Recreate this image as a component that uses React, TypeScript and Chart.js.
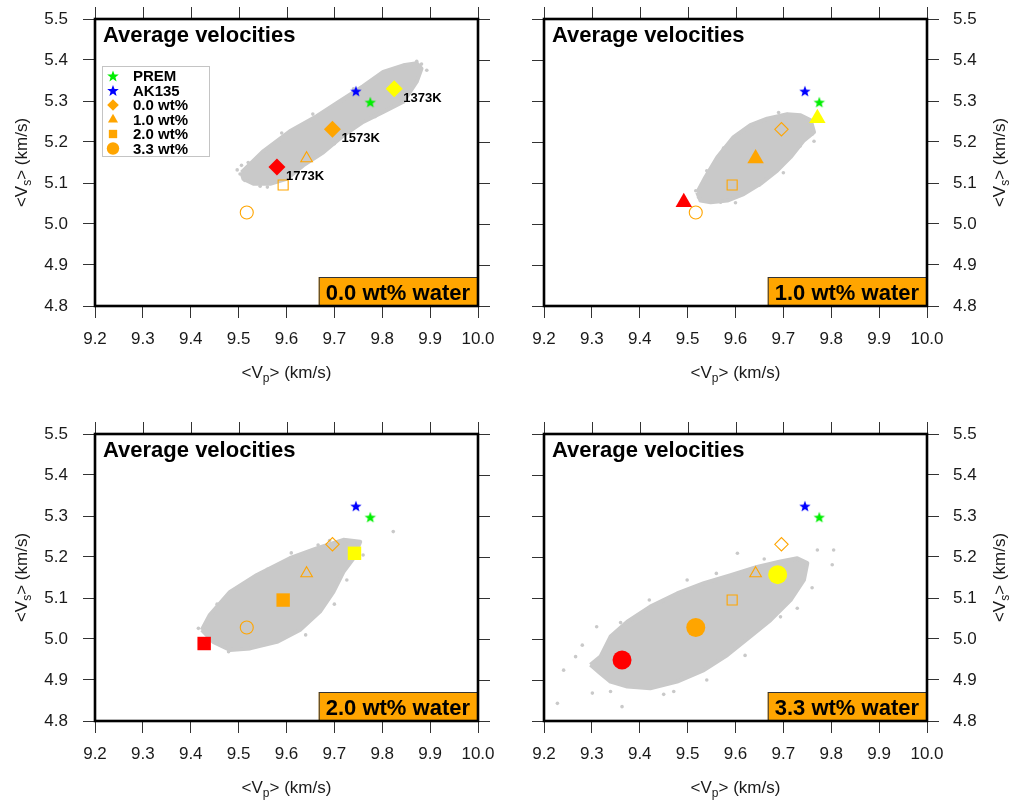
import React, { useEffect, useRef } from 'react';
import { Chart, registerables } from 'chart.js';

Chart.register(...registerables);

// ---------------- data ----------------
const X_TICKS = [9.2, 9.3, 9.4, 9.5, 9.6, 9.7, 9.8, 9.9, 10.0];
const Y_TICKS = [4.8, 4.9, 5.0, 5.1, 5.2, 5.3, 5.4, 5.5];

const TEMPS = ['1373K', '1573K', '1773K'];
const WATER_LABELS = ['0.0 wt%', '1.0 wt%', '2.0 wt%', '3.3 wt%'];
const PANEL_TITLES = ['0.0 wt% water', '1.0 wt% water', '2.0 wt% water', '3.3 wt% water'];
const REF_NAMES = ['PREM', 'AK135'];
const REF_VP = [9.775, 9.745];
const REF_VS = [5.297, 5.324];

// average velocities per water content, temperatures 1373K, 1573K, 1773K
const VP_W00 = [9.825, 9.696, 9.580];
const VS_W00 = [5.330, 5.231, 5.139];
const VP_W10 = [9.771, 9.642, 9.492];
const VS_W10 = [5.258, 5.160, 5.053];
const VP_W20 = [9.742, 9.593, 9.428];
const VS_W20 = [5.209, 5.095, 4.989];
const VP_W33 = [9.688, 9.517, 9.363];
const VS_W33 = [5.157, 5.028, 4.949];

// outline of the dense gray cloud of samples (Vp, Vs)
const CLOUD_W00_VP = [9.506, 9.552, 9.607, 9.663, 9.712, 9.760, 9.802, 9.844, 9.872, 9.882, 9.872, 9.844, 9.802, 9.760, 9.719, 9.677, 9.635, 9.600, 9.566, 9.531, 9.510];
const CLOUD_W00_VS = [5.126, 5.178, 5.226, 5.263, 5.300, 5.336, 5.371, 5.387, 5.392, 5.379, 5.347, 5.298, 5.273, 5.249, 5.216, 5.175, 5.143, 5.110, 5.098, 5.098, 5.110];
const CLOUD_W10_VP = [9.520, 9.537, 9.562, 9.596, 9.631, 9.666, 9.708, 9.736, 9.757, 9.764, 9.743, 9.715, 9.687, 9.652, 9.617, 9.583, 9.548, 9.527];
const CLOUD_W10_VS = [5.077, 5.114, 5.163, 5.212, 5.241, 5.257, 5.268, 5.265, 5.253, 5.224, 5.204, 5.163, 5.130, 5.098, 5.073, 5.057, 5.053, 5.057];
const CLOUD_W20_VP = [9.423, 9.440, 9.482, 9.538, 9.607, 9.663, 9.719, 9.754, 9.740, 9.719, 9.698, 9.670, 9.628, 9.580, 9.524, 9.482, 9.447];
const CLOUD_W20_VS = [5.022, 5.059, 5.115, 5.156, 5.197, 5.221, 5.242, 5.237, 5.197, 5.164, 5.115, 5.067, 5.022, 4.993, 4.977, 4.973, 4.993];
const CLOUD_W33_VP = [9.297, 9.318, 9.339, 9.374, 9.422, 9.478, 9.534, 9.590, 9.645, 9.694, 9.729, 9.750, 9.743, 9.715, 9.673, 9.631, 9.583, 9.534, 9.478, 9.422, 9.374, 9.339, 9.318];
const CLOUD_W33_VS = [4.937, 4.957, 5.006, 5.042, 5.079, 5.111, 5.136, 5.156, 5.176, 5.189, 5.197, 5.185, 5.144, 5.095, 5.046, 5.006, 4.961, 4.924, 4.896, 4.880, 4.884, 4.896, 4.916];

// scattered samples outside the dense cloud
const OUT_W00_VP = [9.506, 9.503, 9.513, 9.497, 9.882, 9.893, 9.872, 9.545, 9.560, 9.620, 9.700, 9.785, 9.590, 9.655, 9.740, 9.520];
const OUT_W00_VS = [5.143, 5.122, 5.106, 5.132, 5.390, 5.375, 5.397, 5.092, 5.090, 5.128, 5.196, 5.262, 5.222, 5.268, 5.330, 5.150];
const OUT_W10_VP = [9.517, 9.523, 9.569, 9.764, 9.760, 9.600, 9.540, 9.575, 9.690, 9.735, 9.650, 9.700];
const OUT_W10_VS = [5.081, 5.065, 5.053, 5.202, 5.219, 5.052, 5.130, 5.185, 5.272, 5.190, 5.095, 5.125];
const OUT_W20_VP = [9.416, 9.823, 9.760, 9.479, 9.726, 9.666, 9.500, 9.455, 9.560, 9.640, 9.700, 9.610, 9.690];
const OUT_W20_VS = [5.026, 5.262, 5.205, 4.969, 5.144, 5.229, 4.975, 5.085, 5.170, 5.010, 5.085, 5.210, 5.240];
const OUT_W33_VP = [9.228, 9.241, 9.266, 9.301, 9.363, 9.604, 9.805, 9.802, 9.771, 9.729, 9.694, 9.499, 9.471, 9.339, 9.310, 9.280, 9.360, 9.420, 9.560, 9.660, 9.760, 9.540, 9.620, 9.450];
const OUT_W33_VS = [4.843, 4.924, 4.957, 4.868, 4.835, 5.209, 5.217, 5.181, 5.217, 5.075, 5.054, 5.144, 4.872, 4.872, 5.030, 4.985, 5.040, 5.095, 5.160, 5.195, 5.125, 4.900, 4.960, 4.865];

const VP_BY_WATER = [VP_W00, VP_W10, VP_W20, VP_W33];
const VS_BY_WATER = [VS_W00, VS_W10, VS_W20, VS_W33];
const CLOUD_VP = [CLOUD_W00_VP, CLOUD_W10_VP, CLOUD_W20_VP, CLOUD_W33_VP];
const CLOUD_VS = [CLOUD_W00_VS, CLOUD_W10_VS, CLOUD_W20_VS, CLOUD_W33_VS];
const OUT_VP = [OUT_W00_VP, OUT_W10_VP, OUT_W20_VP, OUT_W33_VP];
const OUT_VS = [OUT_W00_VS, OUT_W10_VS, OUT_W20_VS, OUT_W33_VS];

// ---------------- styles ----------------
const FONT = '"Liberation Sans", Arial, Helvetica, sans-serif';
const GRAY = 'rgb(201,201,201)';
const ORANGE = '#ffa500';
const TEMP_COLORS = ['#ffff00', '#ffa500', '#ff0000'];
const REF_COLORS = ['#00ee00', '#0000ff'];
const SHAPES = ['rectRot', 'triangle', 'rect', 'circle'];
const FILLED_R = [8.5, 9.5, 9.5, 9.5];
const HOLLOW_R = [6.7, 6.7, 7.1, 6.5];
const LEGEND_R = [5.8, 5.8, 5.9, 6.2];
const TICK_LEN = 12;
const TICK_COLOR = '#333';
const LABEL_COLOR = '#1a1a1a';

const LAYOUT = [
  { left: 0, top: 0, w: 507, h: 400, pad: { left: 0, right: 29, top: 19, bottom: 0 }, side: 'left', sideW: 95, bottomH: 94 },
  { left: 507, top: 0, w: 508, h: 400, pad: { left: 37, right: 0, top: 19, bottom: 0 }, side: 'right', sideW: 88, bottomH: 94 },
  { left: 0, top: 400, w: 507, h: 401, pad: { left: 0, right: 29, top: 34, bottom: 0 }, side: 'left', sideW: 95, bottomH: 80 },
  { left: 507, top: 400, w: 508, h: 401, pad: { left: 37, right: 0, top: 34, bottom: 0 }, side: 'right', sideW: 88, bottomH: 80 },
];

function starPath(ctx: CanvasRenderingContext2D, cx: number, cy: number, R: number) {
  const r = R * 0.42;
  ctx.beginPath();
  for (let i = 0; i < 10; i++) {
    const rad = i % 2 === 0 ? R : r;
    const ang = -Math.PI / 2 + (i * Math.PI) / 5;
    const x = cx + rad * Math.cos(ang);
    const y = cy + rad * Math.sin(ang);
    if (i === 0) ctx.moveTo(x, y);
    else ctx.lineTo(x, y);
  }
  ctx.closePath();
}

function makeStar(color: string, R: number) {
  const s = Math.ceil(R * 2 + 2);
  const c = document.createElement('canvas');
  c.width = s;
  c.height = s;
  const ctx = c.getContext('2d')!;
  ctx.fillStyle = color;
  starPath(ctx, s / 2, s / 2 + R * 0.08, R);
  ctx.fill();
  return c;
}

function shapePath(ctx: CanvasRenderingContext2D, shape: string, x: number, y: number, r: number) {
  ctx.beginPath();
  if (shape === 'circle') {
    ctx.arc(x, y, r, 0, Math.PI * 2);
  } else if (shape === 'rectRot') {
    ctx.moveTo(x - r, y);
    ctx.lineTo(x, y - r);
    ctx.lineTo(x + r, y);
    ctx.lineTo(x, y + r);
    ctx.closePath();
  } else if (shape === 'rect') {
    const h = r * Math.SQRT1_2;
    ctx.rect(x - h, y - h, 2 * h, 2 * h);
  } else if (shape === 'triangle') {
    for (let i = 0; i < 3; i++) {
      const a = (i * 2 * Math.PI) / 3;
      const px = x + Math.sin(a) * r;
      const py = y - Math.cos(a) * r;
      if (i === 0) ctx.moveTo(px, py);
      else ctx.lineTo(px, py);
    }
    ctx.closePath();
  }
}

function subText(ctx: CanvasRenderingContext2D, pre: string, sub: string, post: string, cx: number, cy: number, size: number) {
  const main = `${size}px ${FONT}`;
  const small = `${Math.round(size * 0.68)}px ${FONT}`;
  ctx.font = main;
  const w1 = ctx.measureText(pre).width;
  const w3 = ctx.measureText(post).width;
  ctx.font = small;
  const w2 = ctx.measureText(sub).width;
  const total = w1 + w2 + w3;
  let x = cx - total / 2;
  ctx.textBaseline = 'middle';
  ctx.textAlign = 'left';
  ctx.font = main;
  ctx.fillText(pre, x, cy);
  x += w1;
  ctx.font = small;
  ctx.fillText(sub, x, cy + size * 0.32);
  x += w2;
  ctx.font = main;
  ctx.fillText(post, x, cy);
}

function buildConfig(idx: number, stars: HTMLCanvasElement[]) {
  const L = LAYOUT[idx];
  const w = idx;
  const pts = (vp: number[], vs: number[]) => vp.map((x, i) => ({ x, y: vs[i] }));
  const cloud = pts(CLOUD_VP[w], CLOUD_VS[w]);
  cloud.push({ ...cloud[0] });

  const datasets: any[] = [];
  datasets.push({
    type: 'line',
    data: cloud,
    fill: 'shape',
    backgroundColor: GRAY,
    borderColor: GRAY,
    borderWidth: 4,
    borderJoinStyle: 'round',
    pointRadius: 0,
    tension: 0,
    order: 20,
  });
  datasets.push({
    type: 'scatter',
    data: pts(OUT_VP[w], OUT_VS[w]),
    pointRadius: 1.8,
    backgroundColor: GRAY,
    borderWidth: 0,
    order: 19,
  });
  for (let o = 0; o < 4; o++) {
    if (o === w) continue;
    datasets.push({
      type: 'scatter',
      data: [{ x: VP_BY_WATER[o][1], y: VS_BY_WATER[o][1] }],
      pointStyle: SHAPES[o],
      pointRadius: HOLLOW_R[o],
      backgroundColor: 'rgba(0,0,0,0)',
      borderColor: ORANGE,
      borderWidth: 1.1,
      order: 10,
    });
  }
  REF_NAMES.forEach((n, i) => {
    datasets.push({
      type: 'scatter',
      label: n,
      data: [{ x: REF_VP[i], y: REF_VS[i] }],
      pointStyle: stars[i],
      pointRadius: 6,
      order: 5,
    });
  });
  datasets.push({
    type: 'scatter',
    data: pts(VP_BY_WATER[w], VS_BY_WATER[w]),
    pointStyle: SHAPES[w],
    pointRadius: FILLED_R[w],
    backgroundColor: TEMP_COLORS,
    borderColor: TEMP_COLORS,
    borderWidth: 0,
    order: 1,
  });

  const decor = {
    id: 'decor' + idx,
    afterDraw(chart: any) {
      const { ctx, chartArea: a, scales } = chart;
      const xs = scales.x;
      const ys = scales.y;
      ctx.save();
      // opposite-side ticks
      ctx.strokeStyle = TICK_COLOR;
      ctx.lineWidth = 1;
      ctx.beginPath();
      X_TICKS.forEach((v) => {
        const px = Math.round(xs.getPixelForValue(v)) + 0.5;
        ctx.moveTo(px, a.top);
        ctx.lineTo(px, a.top - TICK_LEN);
      });
      Y_TICKS.forEach((v) => {
        const py = Math.round(ys.getPixelForValue(v)) + 0.5;
        if (L.side === 'left') {
          ctx.moveTo(a.right, py);
          ctx.lineTo(a.right + TICK_LEN, py);
        } else {
          ctx.moveTo(a.left, py);
          ctx.lineTo(a.left - TICK_LEN, py);
        }
      });
      ctx.stroke();

      // title
      ctx.fillStyle = '#000';
      ctx.textAlign = 'left';
      ctx.textBaseline = 'alphabetic';
      ctx.font = `bold 22px ${FONT}`;
      ctx.fillText('Average velocities', a.left + 8, a.top + 23);

      // temperature labels (first panel)
      if (idx === 0) {
        ctx.font = `bold 13px ${FONT}`;
        TEMPS.forEach((t, i) => {
          const px = xs.getPixelForValue(VP_BY_WATER[w][i]);
          const py = ys.getPixelForValue(VS_BY_WATER[w][i]);
          ctx.fillText(t, px + 9, py + 13);
        });

        // legend
        const lx = a.left + 7;
        const ly = a.top + 47;
        ctx.fillStyle = '#fff';
        ctx.fillRect(lx, ly, 107, 90);
        ctx.strokeStyle = '#c4c4c4';
        ctx.lineWidth = 1;
        ctx.strokeRect(lx + 0.5, ly + 0.5, 107, 90);
        ctx.font = `bold 15px ${FONT}`;
        ctx.textBaseline = 'middle';
        const labels = [...REF_NAMES, ...WATER_LABELS];
        labels.forEach((lab, i) => {
          const cy = ly + 10 + i * 14.5;
          const cx = lx + 11;
          if (i < 2) {
            ctx.fillStyle = REF_COLORS[i];
            starPath(ctx, cx, cy + 0.5, 6.1);
            ctx.fill();
          } else {
            ctx.fillStyle = ORANGE;
            shapePath(ctx, SHAPES[i - 2], cx, cy, LEGEND_R[i - 2]);
            ctx.fill();
          }
          ctx.fillStyle = '#000';
          ctx.fillText(lab, lx + 31, cy + 1);
        });
      }

      // water content box
      ctx.font = `bold 22px ${FONT}`;
      ctx.textBaseline = 'alphabetic';
      const tw = ctx.measureText(PANEL_TITLES[w]).width;
      const bw = tw + 15;
      const bh = 29;
      ctx.fillStyle = ORANGE;
      ctx.fillRect(a.right - bw, a.bottom - bh, bw, bh);
      ctx.strokeStyle = '#333';
      ctx.lineWidth = 1;
      ctx.strokeRect(a.right - bw + 0.5, a.bottom - bh + 0.5, bw, bh);
      ctx.fillStyle = '#000';
      ctx.fillText(PANEL_TITLES[w], a.right - bw + 7, a.bottom - 6);

      // frame
      ctx.strokeStyle = '#000';
      ctx.lineWidth = 2.6;
      ctx.strokeRect(a.left, a.top, a.right - a.left, a.bottom - a.top);

      // axis titles
      ctx.fillStyle = LABEL_COLOR;
      subText(ctx, '<V', 'p', '> (km/s)', (a.left + a.right) / 2, a.bottom + 67, 17);
      const yc = (a.top + a.bottom) / 2;
      const xc = L.side === 'left' ? a.left - 73 : a.right + 73;
      ctx.translate(xc, yc);
      ctx.rotate(-Math.PI / 2);
      subText(ctx, '<V', 's', '> (km/s)', 0, 0, 17);
      ctx.restore();
    },
  };

  return {
    type: 'scatter',
    data: { datasets },
    options: {
      animation: false,
      responsive: false,
      devicePixelRatio: 1,
      events: [],
      layout: { padding: L.pad },
      plugins: { legend: { display: false }, tooltip: { enabled: false } },
      scales: {
        x: {
          type: 'linear',
          position: 'bottom',
          min: 9.2,
          max: 10.0,
          afterBuildTicks: (s: any) => {
            s.ticks = X_TICKS.map((v) => ({ value: v }));
          },
          afterFit: (s: any) => {
            s.height = L.bottomH;
            s.paddingLeft = 0;
            s.paddingRight = 0;
            s.paddingTop = 0;
            s.paddingBottom = 0;
          },
          ticks: {
            autoSkip: false,
            maxRotation: 0,
            padding: 11,
            color: LABEL_COLOR,
            font: { size: 17, family: FONT },
            callback: (v: any) => Number(v).toFixed(1),
          },
          grid: { display: true, drawOnChartArea: false, drawTicks: true, tickLength: TICK_LEN, color: TICK_COLOR, lineWidth: 1 },
          border: { display: false },
        },
        y: {
          type: 'linear',
          position: L.side,
          min: 4.8,
          max: 5.5,
          afterBuildTicks: (s: any) => {
            s.ticks = Y_TICKS.map((v) => ({ value: v }));
          },
          afterFit: (s: any) => {
            s.width = L.sideW;
            s.paddingLeft = 0;
            s.paddingRight = 0;
            s.paddingTop = 0;
            s.paddingBottom = 0;
          },
          ticks: {
            autoSkip: false,
            padding: L.side === 'left' ? 15 : 14,
            color: LABEL_COLOR,
            font: { size: 17, family: FONT },
            callback: (v: any) => Number(v).toFixed(1),
          },
          grid: { display: true, drawOnChartArea: false, drawTicks: true, tickLength: TICK_LEN, color: TICK_COLOR, lineWidth: 1 },
          border: { display: false },
        },
      },
    },
    plugins: [decor],
  };
}

function Panel({ idx }: { idx: number }) {
  const ref = useRef<HTMLCanvasElement>(null);
  const L = LAYOUT[idx];
  useEffect(() => {
    const stars = REF_COLORS.map((c) => makeStar(c, 6));
    const chart = new Chart(ref.current as HTMLCanvasElement, buildConfig(idx, stars) as any);
    return () => chart.destroy();
  }, [idx]);
  return (
    <canvas
      ref={ref}
      width={L.w}
      height={L.h}
      style={{ position: 'absolute', left: L.left, top: L.top, width: L.w, height: L.h, display: 'block' }}
    />
  );
}

export default function App() {
  Chart.defaults.font.family = FONT;
  return (
    <div style={{ position: 'absolute', left: 0, top: 0, width: 1015, height: 801, background: '#fff', overflow: 'hidden' }}>
      {[0, 1, 2, 3].map((i) => (
        <Panel key={i} idx={i} />
      ))}
    </div>
  );
}
